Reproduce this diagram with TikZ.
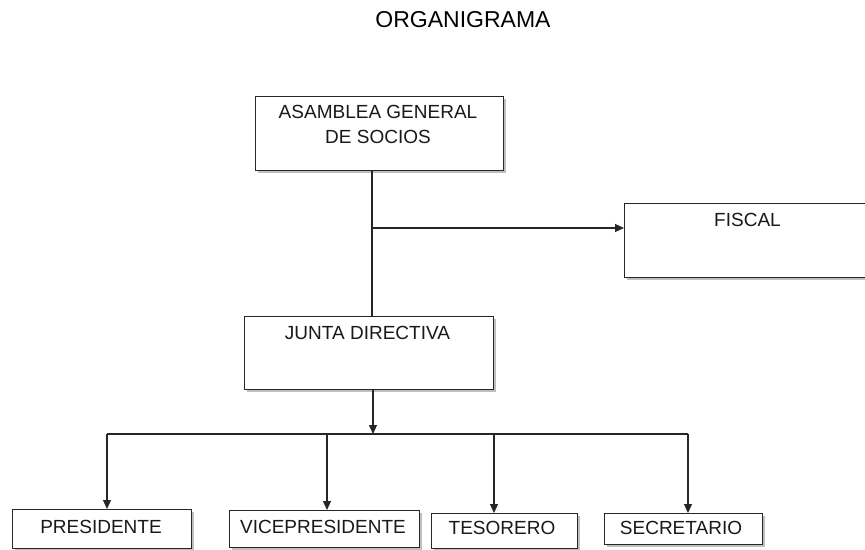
\documentclass[tikz,border=0pt]{standalone}
\usepackage{fontspec}
\setmainfont{Liberation Sans}
\usetikzlibrary{arrows.meta,shadows}
\begin{document}
\begin{tikzpicture}[x=1pt,y=-1pt,
  box/.style={draw=black!85,line width=1.3pt,fill=white,rectangle,inner sep=0pt,anchor=north west,
    drop shadow={shadow xshift=2pt,shadow yshift=-2pt,fill=black,opacity=0.25}},
  lbl/.style={inner sep=0pt,font=\fontsize{19}{22}\selectfont,text=black!90},
  conn/.style={draw=black!85,line width=1.2pt},
  arr/.style={conn,-{Triangle[length=9pt,width=8pt]}}]
\useasboundingbox (0,0) rectangle (865,549);
\clip (0,0) rectangle (865,549);
\fill[white] (0,0) rectangle (865,549);
% title
\node[inner sep=0pt,font=\fontsize{23}{26}\selectfont] (title) at (463,20) {ORGANIGRAMA};
% boxes
\node[box,minimum width=248pt,minimum height=74pt] (asm) at (255,96) {};
\node[box,minimum width=260pt,minimum height=74pt] (fiscal) at (624,203) {};
\node[box,minimum width=249pt,minimum height=73pt] (junta) at (244,316) {};
\node[box,minimum width=179pt,minimum height=39pt] (pres) at (12,509) {};
\node[box,minimum width=190pt,minimum height=37pt] (vice) at (229,510) {};
\node[box,minimum width=146pt,minimum height=35pt] (tes) at (431,513) {};
\node[box,minimum width=158pt,minimum height=31pt] (sec) at (604,513) {};
% labels
\node[lbl] (asmA) at (378,112) {ASAMBLEA GENERAL};
\node[lbl] (asmB) at (378,137) {DE SOCIOS};
\node[lbl] (fiscalT) at (747.5,220) {FISCAL};
\node[lbl] (juntaT) at (367.5,333) {JUNTA DIRECTIVA};
\node[lbl] (presT) at (101,526.5) {PRESIDENTE};
\node[lbl] (viceT) at (323,526.5) {VICEPRESIDENTE};
\node[lbl] (tesT) at (502,528) {TESORERO};
\node[lbl] (secT) at (681,528) {SECRETARIO};
% connector coordinates
\coordinate (aBot) at (372,170);
\coordinate (jTop) at (372,316);
\coordinate (fork) at (372,228);
\coordinate (jBot) at (373,389);
\coordinate (bus) at (373,434);
\coordinate (busL) at (107,434);
\coordinate (busR) at (688,434);
\coordinate (b2) at (327,434);
\coordinate (b3) at (494,434);
% connectors
\draw[conn] (aBot) -- (jTop);
\draw[arr] (fork) -- (fork -| fiscal.west);
\draw[arr] (jBot) -- (bus);
\draw[conn] (busL) -- (busR);
\draw[arr] (busL) -- (busL |- pres.north);
\draw[arr] (b2) -- (b2 |- vice.north);
\draw[arr] (b3) -- (b3 |- tes.north);
\draw[arr] (busR) -- (busR |- sec.north);
\end{tikzpicture}
\end{document}
